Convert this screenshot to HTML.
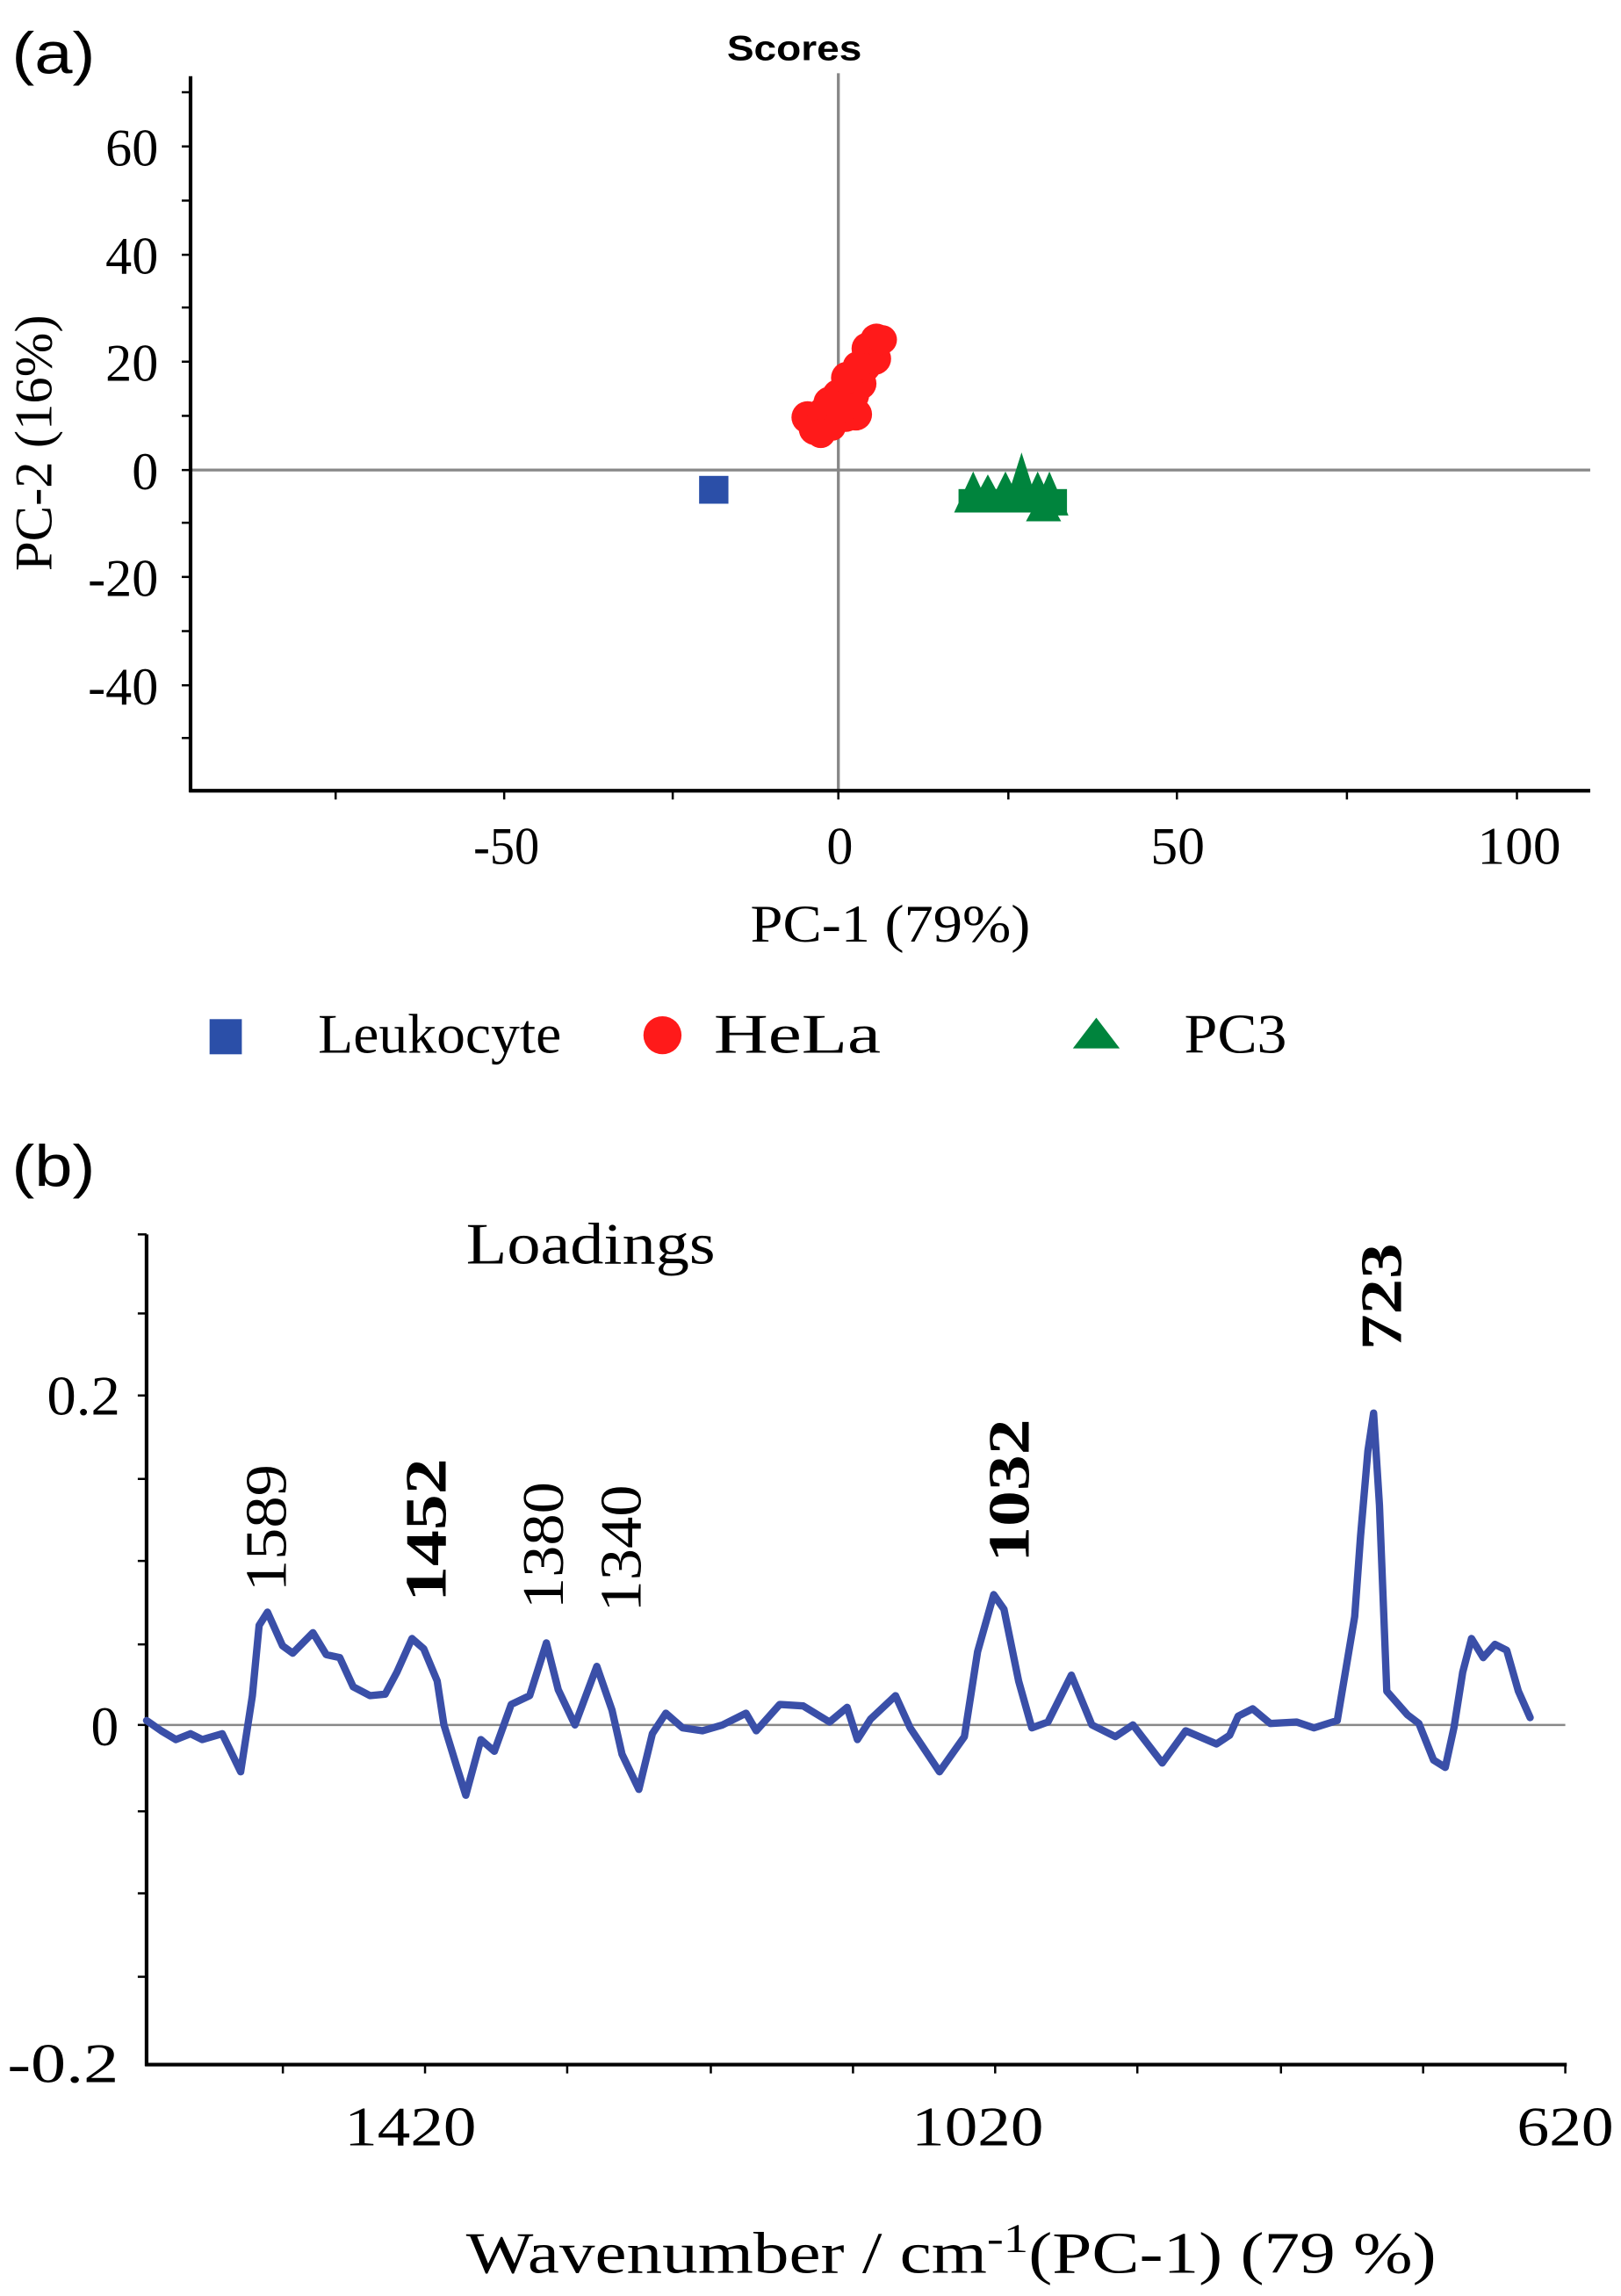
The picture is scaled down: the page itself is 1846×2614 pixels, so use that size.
<!DOCTYPE html>
<html><head><meta charset="utf-8"><style>html,body{margin:0;padding:0;background:#fff}svg{display:block}</style></head>
<body>
<svg width="1846" height="2614" viewBox="0 0 1106 1568" preserveAspectRatio="none" xmlns="http://www.w3.org/2000/svg">
<rect width="1106" height="1568" fill="#fff"/>
<!-- Panel a -->
<text x="8" y="50" font-family="Liberation Sans, sans-serif" font-size="40" textLength="57" lengthAdjust="spacingAndGlyphs">(a)</text>
<text x="496" y="41" font-family="Liberation Sans, sans-serif" font-size="24" font-weight="bold" textLength="92" lengthAdjust="spacingAndGlyphs">Scores</text>
<g stroke="#888" stroke-width="2">
<line x1="572" y1="50" x2="572" y2="540"/>
<line x1="130" y1="321" x2="1085" y2="321"/>
</g>
<g stroke="#000" stroke-width="2.5">
<line x1="130" y1="52" x2="130" y2="541"/>
<line x1="129" y1="540" x2="1085" y2="540"/>
</g>
<g stroke="#000" stroke-width="1.5">
<line x1="124" y1="63" x2="130" y2="63"/><line x1="124" y1="100" x2="130" y2="100"/><line x1="124" y1="137" x2="130" y2="137"/><line x1="124" y1="174" x2="130" y2="174"/><line x1="124" y1="210" x2="130" y2="210"/><line x1="124" y1="247" x2="130" y2="247"/><line x1="124" y1="284" x2="130" y2="284"/><line x1="124" y1="321" x2="130" y2="321"/><line x1="124" y1="357" x2="130" y2="357"/><line x1="124" y1="394" x2="130" y2="394"/><line x1="124" y1="431" x2="130" y2="431"/><line x1="124" y1="468" x2="130" y2="468"/><line x1="124" y1="504" x2="130" y2="504"/>
<line x1="229" y1="540" x2="229" y2="546"/><line x1="344" y1="540" x2="344" y2="546"/><line x1="459" y1="540" x2="459" y2="546"/><line x1="572" y1="540" x2="572" y2="546"/><line x1="688" y1="540" x2="688" y2="546"/><line x1="803" y1="540" x2="803" y2="546"/><line x1="919" y1="540" x2="919" y2="546"/><line x1="1035" y1="540" x2="1035" y2="546"/>
</g>
<g font-family="Liberation Serif, serif" font-size="36" text-anchor="end">
<text x="108" y="113">60</text><text x="108" y="187">40</text><text x="108" y="260">20</text><text x="108" y="334">0</text><text x="108" y="407">-20</text><text x="108" y="481">-40</text>
</g>
<g font-family="Liberation Serif, serif" font-size="36">
<text x="323" y="590" textLength="45" lengthAdjust="spacingAndGlyphs">-50</text>
<text x="564" y="590">0</text>
<text x="785" y="590" textLength="37" lengthAdjust="spacingAndGlyphs">50</text>
<text x="1008" y="590" textLength="57" lengthAdjust="spacingAndGlyphs">100</text>
<text x="512" y="643" textLength="191" lengthAdjust="spacingAndGlyphs">PC-1 (79%)</text>
</g>
<text transform="translate(35,390) rotate(-90)" font-family="Liberation Serif, serif" font-size="36" textLength="175" lengthAdjust="spacingAndGlyphs">PC-2 (16%)</text>
<!-- points -->
<g fill="#2b4fa8"><rect x="477" y="325" width="20" height="19"/></g>
<g fill="#ff1a1a">
<circle cx="551" cy="285" r="11"/><circle cx="556" cy="293" r="11"/><circle cx="562" cy="282" r="11"/><circle cx="566" cy="275" r="11"/><circle cx="572" cy="270" r="11"/><circle cx="577" cy="284" r="11"/><circle cx="582" cy="270" r="11"/><circle cx="584" cy="283" r="11"/><circle cx="587" cy="262" r="11"/><circle cx="590" cy="250" r="11"/><circle cx="592" cy="238" r="11"/><circle cx="597" cy="245" r="11"/><circle cx="598" cy="232" r="11"/><circle cx="602" cy="232" r="10"/><circle cx="578" cy="258" r="11"/><circle cx="568" cy="292" r="9"/><circle cx="560" cy="296" r="10"/><circle cx="575" cy="278" r="11"/><circle cx="585" cy="250" r="10"/>
</g>
<g fill="#00843d">
<polygon points="651,350 664,322 677,350"/><polygon points="660,350 674,324 688,350"/><polygon points="672,350 686,322 700,350"/><polygon points="684,350 697,309 710,350"/><polygon points="695,350 708,322 721,350"/><polygon points="703,352 716,322 729,352"/><polygon points="700,356 712,334 724,356"/><rect x="654" y="334" width="74" height="16"/>
</g>
<!-- legend -->
<rect x="143" y="696" width="22" height="24" fill="#2b4fa8"/>
<circle cx="452" cy="707" r="13" fill="#ff1a1a"/>
<polygon points="732,716 748,695 764,716" fill="#00843d"/>
<g font-family="Liberation Serif, serif" font-size="38">
<text x="217" y="719" textLength="166" lengthAdjust="spacingAndGlyphs">Leukocyte</text>
<text x="487" y="719" textLength="114" lengthAdjust="spacingAndGlyphs">HeLa</text>
<text x="808" y="719" textLength="70" lengthAdjust="spacingAndGlyphs">PC3</text>
</g>
<!-- Panel b -->
<text x="8" y="810" font-family="Liberation Sans, sans-serif" font-size="40" textLength="57" lengthAdjust="spacingAndGlyphs">(b)</text>
<text x="318" y="863" font-family="Liberation Serif, serif" font-size="40" textLength="170" lengthAdjust="spacingAndGlyphs">Loadings</text>
<line x1="100" y1="1178" x2="1068" y2="1178" stroke="#888" stroke-width="1.5"/>
<g stroke="#000" stroke-width="2.5">
<line x1="100" y1="843" x2="100" y2="1411"/>
<line x1="99" y1="1410" x2="1069" y2="1410"/>
</g>
<g stroke="#000" stroke-width="1.5">
<line x1="94" y1="843" x2="100" y2="843"/><line x1="94" y1="897" x2="100" y2="897"/><line x1="94" y1="953" x2="100" y2="953"/><line x1="94" y1="1010" x2="100" y2="1010"/><line x1="94" y1="1066" x2="100" y2="1066"/><line x1="94" y1="1123" x2="100" y2="1123"/><line x1="94" y1="1178" x2="100" y2="1178"/><line x1="94" y1="1237" x2="100" y2="1237"/><line x1="94" y1="1293" x2="100" y2="1293"/><line x1="94" y1="1350" x2="100" y2="1350"/>
<line x1="193" y1="1410" x2="193" y2="1416"/><line x1="290" y1="1410" x2="290" y2="1416"/><line x1="387" y1="1410" x2="387" y2="1416"/><line x1="485" y1="1410" x2="485" y2="1416"/><line x1="582" y1="1410" x2="582" y2="1416"/><line x1="679" y1="1410" x2="679" y2="1416"/><line x1="776" y1="1410" x2="776" y2="1416"/><line x1="874" y1="1410" x2="874" y2="1416"/><line x1="971" y1="1410" x2="971" y2="1416"/><line x1="1068" y1="1410" x2="1068" y2="1416"/>
</g>
<g font-family="Liberation Serif, serif" font-size="38">
<text x="32" y="966" textLength="50" lengthAdjust="spacingAndGlyphs">0.2</text>
<text x="62" y="1192">0</text>
<text x="5" y="1422" textLength="76" lengthAdjust="spacingAndGlyphs">-0.2</text>
<text x="235" y="1465" textLength="90" lengthAdjust="spacingAndGlyphs">1420</text>
<text x="622" y="1465" textLength="90" lengthAdjust="spacingAndGlyphs">1020</text>
<text x="1035" y="1465" textLength="66" lengthAdjust="spacingAndGlyphs">620</text>
</g>
<text x="318" y="1552" font-family="Liberation Serif, serif" font-size="40" textLength="662" lengthAdjust="spacingAndGlyphs">Wavenumber / cm<tspan dy="-14" font-size="28">-1</tspan><tspan dy="14">(PC-1) (79 %)</tspan></text>
<polyline fill="none" stroke="#3a4fa8" stroke-width="5" stroke-linejoin="round" stroke-linecap="round" points="100,1175 110,1182 120,1188 130,1184 138,1188 151.6,1184 164.2,1210 172.2,1158 176.8,1110 182.5,1101 192.8,1124 199.7,1129 213.5,1115 222.6,1130 231.8,1132 241,1152 252.4,1158 262.8,1157 270.8,1142 281.1,1119 289.1,1126 298.3,1148 302.9,1178 312.1,1208 317.8,1226 328.1,1188 337.3,1196 348.8,1164 361.4,1158 372.8,1122 380.9,1154 392.3,1178 407.2,1138 417.6,1168 424.4,1198 435.9,1222 445.1,1184 454.3,1170 465.7,1180 479.3,1182 493,1178 509,1170 516,1182 532,1164 548,1165 566,1176 578,1166 585,1188 594,1174 611,1158 621,1180 641,1210 658,1186 667,1128 678,1089 685,1099 695,1148 704,1180 715,1176 731,1144 745,1178 761,1186 773,1178 793,1204 809,1182 830,1191 839,1185 844.8,1172 854.7,1167 866.7,1177 884.6,1176 896.5,1180 912.4,1175 924.3,1104 928.3,1049 933.3,991 937.2,965 941.2,1028 946.2,1155 960.2,1171 968.1,1177 978.1,1202 986.1,1207 992,1180 998,1142 1004,1119 1012,1132 1020,1123 1028,1127 1036,1155 1044,1173"/>
<g font-family="Liberation Serif, serif" font-size="40">
<text transform="translate(195,1087) rotate(-90)" textLength="87" lengthAdjust="spacingAndGlyphs">1589</text>
<text transform="translate(304,1094) rotate(-90)" font-weight="bold" textLength="98" lengthAdjust="spacingAndGlyphs">1452</text>
<text transform="translate(384,1099) rotate(-90)" textLength="87" lengthAdjust="spacingAndGlyphs">1380</text>
<text transform="translate(437,1101) rotate(-90)" textLength="87" lengthAdjust="spacingAndGlyphs">1340</text>
<text transform="translate(702,1067) rotate(-90)" font-weight="bold" textLength="98" lengthAdjust="spacingAndGlyphs">1032</text>
<text transform="translate(956,922) rotate(-90)" font-weight="bold" textLength="73" lengthAdjust="spacingAndGlyphs">723</text>
</g>
</svg>
</body></html>
